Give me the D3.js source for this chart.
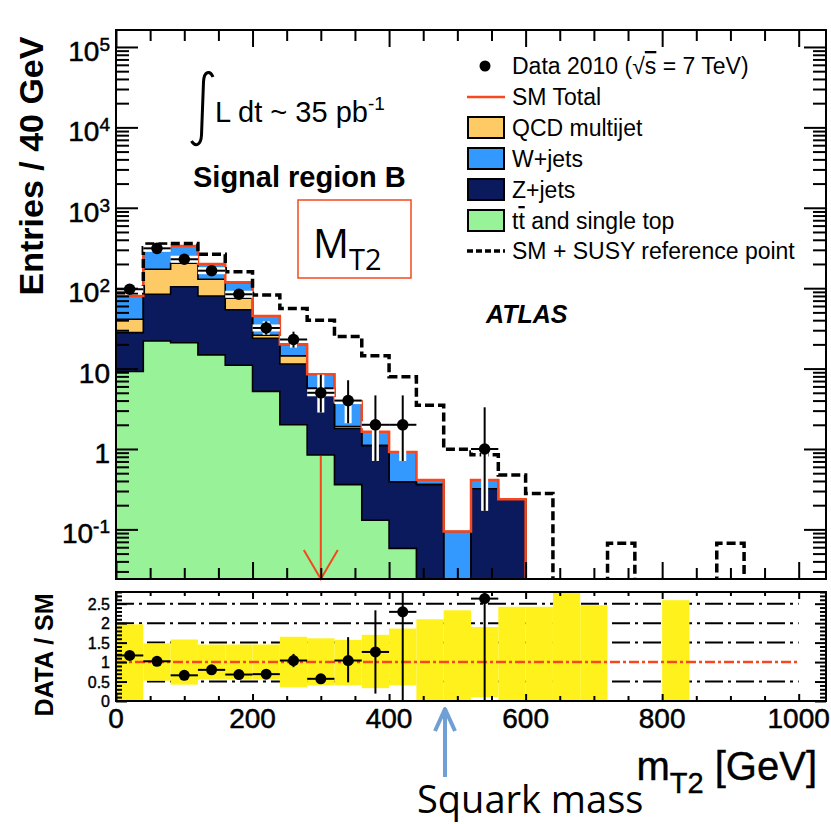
<!DOCTYPE html>
<html><head><meta charset="utf-8">
<script src="https://cdn.jsdelivr.net/npm/d3@7"></script>
<style>body{margin:0;background:#fff}svg{display:block}</style>
</head><body><svg id="c" width="831" height="824"></svg>
<script>
// ---------- DATA ----------
const binLow = [0,40,80,120,160,200,240,280,320,360,400,440,480,520,560,600,640,680,720,760,800,840,880,920,960,1000];
const ttbar  = [9.2,22,21,14.8,11,5.2,2.0,0.84,0.36,0.13,0.058,0,0,0,0,0,0,0,0,0,0,0,0,0,0,0];
const zjets  = [18.8,62,83,65.2,43,18.6,9.4,4.86,1.44,0.97,0.33,0.36,0,0.32,0.237,0,0,0,0,0,0,0,0,0,0,0];
const qcd    = [13,88,100,49,21,2.2,3.0,0,0.1,0,0,0,0,0,0,0,0,0,0,0,0,0,0,0,0,0];
const wjets  = [39,135,131,71,43,19,5.6,2.8,2.0,0.54,0.53,0.05,0.094,0.09,0,0,0,0,0,0,0,0,0,0,0,0];
const smSusy = [88,355,360,264,160,82,56,40,25,14.4,7.9,3.5,0.99,0.85,0.475,0.28,0,0,0.067,0,0,0,0.067,0,0,0];
const dataCounts = [97,313,229,165,84,32,23,5,4,2,2,0,0,1,0,0,0,0,0,0,0,0,0,0,0,0];
const dataErrLo  = [9.8,17.7,15,12.8,9.1,5.6,4.8,2.16,1.91,1.29,1.29,0,0,0.83,0,0,0,0,0,0,0,0,0,0,0,0];
const dataErrHi  = [10.9,18.7,16,13.8,10.2,6.7,5.8,3.38,3.16,2.64,2.64,0,0,2.3,0,0,0,0,0,0,0,0,0,0,0,0];
const ratioVal   = [1.17,1.02,0.66,0.80,0.68,0.69,1.04,0.57,1.04,1.26,2.29,null,null,2.63,null,null,null,null,null,null,null,null,null,null,null,null];
const ratioErrLo = [0.08,0.06,0.12,0.06,0.07,0.1,0.17,0.05,0.56,1.07,2.29,0,0,2.63,0,0,0,0,0,0,0,0,0,0,0,0];
const ratioErrHi = [0.08,0.06,0.12,0.06,0.07,0.1,0.17,0.05,0.6,1.07,3,0,0,3,0,0,0,0,0,0,0,0,0,0,0,0];
const bandLo = [0,0.52,0.42,0.55,0.55,0.55,0.35,0.4,0.4,0.33,0.4,0,0,0.1,0,0,0,0,null,null,0,null,null,null,null,null];
const bandHi = [1.97,1.48,1.58,1.45,1.45,1.45,1.65,1.61,1.57,1.7,1.86,2.1,2.33,1.9,2.42,2.42,2.9,2.46,null,null,2.59,null,null,null,null,null];
const yMajorTicks = [0.1,1,10,100,1000,10000,100000];
const yTickExp    = ["-1",null,null,"2","3","4","5"];
const yTickBase   = ["10","1","10","10","10","10","10"];
const ratioTicks  = [0,0.5,1,1.5,2,2.5];
const ratioTickLabels = ["0","0.5","1","1.5","2","2.5"];
const ratioGrid   = [0.5,1.5,2,2.5];
const xMajorTicks = [0,200,400,600,800,1000];
const legendItems = ["Data 2010 (", "SM Total", "QCD multijet", "W+jets", "Z+jets", " and single top", "SM + SUSY reference point"];

// ---------- SETUP ----------
const svg = d3.select('#c');
const FONT = "'Liberation Sans', Arial, Helvetica, sans-serif";
const W = 40;
const x = d3.scaleLinear().domain([0,1040]).range([116,826]);
const y = d3.scaleLog().domain([0.02415,162600]).range([579,30]);
const yr = d3.scaleLinear().domain([0,2.8]).range([701,592]);
const RED = '#f5481e';
const colors = {ttbar:'#98f298', zjets:'#0a1a5c', qcd:'#fdca66', wjets:'#3399ff'};

const defs = svg.append('defs');
defs.append('clipPath').attr('id','clipMain').append('rect').attr('x',116).attr('y',30).attr('width',710).attr('height',549);
defs.append('clipPath').attr('id','clipRatio').append('rect').attr('x',116).attr('y',592).attr('width',710).attr('height',109);

const yc = v => y(Math.max(v, 1e-3));
function stepPts(vals){
  const p = binLow.map((b,i)=>[x(b), yc(vals[i])]);
  p.push([x(binLow[binLow.length-1]+W), yc(vals[vals.length-1])]);
  return p;
}
const area = d3.area().x(d=>d[0]).y0(579).y1(d=>d[1]).curve(d3.curveStepAfter);
const line = d3.line().curve(d3.curveStepAfter);

// ---------- MAIN PANEL ----------
const table = binLow.map((b,i)=>({b, ttbar:ttbar[i], zjets:zjets[i], qcd:qcd[i], wjets:wjets[i]}));
const stack = d3.stack().keys(['ttbar','zjets','qcd','wjets'])(table);
const gMain = svg.append('g').attr('clip-path','url(#clipMain)');
[...stack].reverse().forEach(layer=>{
  const tops = layer.map(d=>d[1]);
  gMain.append('path').attr('d', area(stepPts(tops))).attr('fill', colors[layer.key]);
  gMain.append('path').attr('d', line(stepPts(tops))).attr('fill','none').attr('stroke','#000').attr('stroke-width',1.6);
});
const total = stack[stack.length-1].map(d=>d[1]);
gMain.append('path').attr('d', line(stepPts(total))).attr('fill','none').attr('stroke',RED).attr('stroke-width',2.5);
gMain.append('path').attr('d', line(stepPts(smSusy))).attr('fill','none').attr('stroke','#000').attr('stroke-width',3.5).attr('stroke-dasharray','9,4');

// data points
const pts = binLow.map((b,i)=>({b, v:dataCounts[i], lo:dataErrLo[i], hi:dataErrHi[i]})).filter(d=>d.v>0);
pts.forEach(d=>{
  const cx = x(d.b+W/2), cy = y(d.v);
  [['#fff',7],['#000',2]].forEach(([col,w])=>{
    gMain.append('line').attr('x1',cx).attr('x2',cx).attr('y1',y(d.v+d.hi)).attr('y2',yc(d.v-d.lo)).attr('stroke',col).attr('stroke-width',w);
    gMain.append('line').attr('x1',x(d.b)).attr('x2',x(d.b+W)).attr('y1',cy).attr('y2',cy).attr('stroke',col).attr('stroke-width',w);
  });
  gMain.append('circle').attr('cx',cx).attr('cy',cy).attr('r',5.8).attr('fill','#000');
});

// red arrow at 300 GeV
const ax = x(300);
svg.append('path').attr('d',`M${ax},456 L${ax},579 M${ax-17},550 L${ax},579 L${ax+17},550`)
  .attr('fill','none').attr('stroke',RED).attr('stroke-width',2);

// main axes ticks
const logMinor = [];
for (let e=-2;e<=5;e++) for (let m=2;m<=9;m++){ const v=m*Math.pow(10,e); if(v>0.02415 && v<162600) logMinor.push(v); }
const xMinor = d3.range(0,1041,50).filter(v=>v%200!==0);
function styleAxis(g){ g.select('.domain').remove(); g.selectAll('.tick line').attr('stroke','#000').attr('stroke-width',2); g.selectAll('.tick text').remove(); }
svg.append('g').attr('transform','translate(116,0)').call(d3.axisLeft(y).tickValues(yMajorTicks).tickSize(-22)).call(styleAxis);
svg.append('g').attr('transform','translate(116,0)').call(d3.axisLeft(y).tickValues(logMinor).tickSize(-13)).call(styleAxis);
svg.append('g').attr('transform','translate(826,0)').call(d3.axisRight(y).tickValues(yMajorTicks).tickSize(-22)).call(styleAxis);
svg.append('g').attr('transform','translate(826,0)').call(d3.axisRight(y).tickValues(logMinor).tickSize(-13)).call(styleAxis);
svg.append('g').attr('transform','translate(0,30)').call(d3.axisTop(x).tickValues(xMajorTicks).tickSize(-17)).call(styleAxis);
svg.append('g').attr('transform','translate(0,30)').call(d3.axisTop(x).tickValues(xMinor).tickSize(-11)).call(styleAxis);
svg.append('g').attr('transform','translate(0,579)').call(d3.axisBottom(x).tickValues(xMajorTicks).tickSize(-17)).call(styleAxis);
svg.append('g').attr('transform','translate(0,579)').call(d3.axisBottom(x).tickValues(xMinor).tickSize(-11)).call(styleAxis);
svg.append('rect').attr('x',116).attr('y',30).attr('width',710).attr('height',549).attr('fill','none').attr('stroke','#000').attr('stroke-width',2);

// main y labels
yMajorTicks.forEach((v,i)=>{
  const t = svg.append('text').attr('x',110).attr('y',y(v)+14).attr('text-anchor','end')
    .attr('font-family',FONT).attr('font-size',28).attr('fill','#000').attr('stroke','#000').attr('stroke-width',0.5).text(yTickBase[i]);
  if (yTickExp[i]) t.append('tspan').attr('dy',-10).attr('font-size',19).text(yTickExp[i]);
});
svg.append('text').attr('transform','translate(43,166) rotate(-90)').attr('text-anchor','middle')
  .attr('font-family',FONT).attr('font-weight','bold').attr('font-size',34).text('Entries / 40 GeV');

// annotations
svg.append('path').attr('d','M213,77 C210,70 204,71 203.5,82 L201.5,135 C201,146 195,147 191.5,141')
  .attr('fill','none').attr('stroke','#000').attr('stroke-width',3);
svg.append('text').attr('x',215).attr('y',122).attr('font-family',FONT).attr('font-size',29)
  .text('L dt ~ 35 pb').append('tspan').attr('dy',-12).attr('font-size',19).text('-1');
svg.append('text').attr('x',193).attr('y',187).attr('font-family',FONT).attr('font-weight','bold').attr('font-size',29).text('Signal region B');
svg.append('text').attr('x',486).attr('y',323).attr('font-family',FONT).attr('font-weight','bold').attr('font-style','italic').attr('font-size',25).text('ATLAS');

// M_T2 box
svg.append('rect').attr('x',298).attr('y',200).attr('width',113).attr('height',78).attr('fill','#fff').attr('stroke',RED).attr('stroke-width',1.5);
const mt = svg.append('text').attr('x',313).attr('y',258).attr('font-family',"'Open Sans', sans-serif").attr('font-size',40).text('M');
mt.append('tspan').attr('dy',12).attr('font-size',29).text('T2');

// legend
const LX = 467, TX = 512, LF = 23;
svg.append('circle').attr('cx',485).attr('cy',66).attr('r',5.5).attr('fill','#000');
const dt = svg.append('text').attr('x',TX).attr('y',74).attr('font-family',FONT).attr('font-size',LF).text(legendItems[0]);
dt.append('tspan').text('√');
dt.append('tspan').style('text-decoration','overline').text('s');
dt.append('tspan').text(' = 7 TeV)');
svg.append('line').attr('x1',LX).attr('x2',505).attr('y1',97).attr('y2',97).attr('stroke',RED).attr('stroke-width',2.5);
svg.append('text').attr('x',TX).attr('y',105).attr('font-family',FONT).attr('font-size',LF).text(legendItems[1]);
const boxes = [['qcd',117,136,legendItems[2]],['wjets',148,167,legendItems[3]],['zjets',179,198,legendItems[4]],['ttbar',210,229,null]];
boxes.forEach(([k,by,ty,lab])=>{
  svg.append('rect').attr('x',LX+1).attr('y',by).attr('width',36).attr('height',21).attr('fill',colors[k]).attr('stroke','#000').attr('stroke-width',2);
  if (lab) svg.append('text').attr('x',TX).attr('y',ty).attr('font-family',FONT).attr('font-size',LF).text(lab);
});
const tt = svg.append('text').attr('x',TX).attr('y',229).attr('font-family',FONT).attr('font-size',LF).text('t');
tt.append('tspan').style('text-decoration','overline').text('t');
tt.append('tspan').text(legendItems[5]);
svg.append('line').attr('x1',LX).attr('x2',505).attr('y1',251).attr('y2',251).attr('stroke','#000').attr('stroke-width',3.5).attr('stroke-dasharray','6,3');
svg.append('text').attr('x',TX).attr('y',259).attr('font-family',FONT).attr('font-size',LF).text(legendItems[6]);

// ---------- RATIO PANEL ----------
const gR = svg.append('g').attr('clip-path','url(#clipRatio)');
ratioGrid.forEach(v=>{
  gR.append('line').attr('x1',x(0)).attr('x2',x(1000)).attr('y1',yr(v)).attr('y2',yr(v)).attr('stroke','#000').attr('stroke-width',2).attr('stroke-dasharray','18,5,3,5');
});
binLow.forEach((b,i)=>{
  if (bandHi[i]==null) return;
  gR.append('rect').attr('x',x(b)).attr('width',x(b+W)-x(b)).attr('y',yr(bandHi[i])).attr('height',yr(bandLo[i])-yr(bandHi[i])).attr('fill','#fff21c');
});
gR.append('line').attr('x1',x(0)).attr('x2',x(1000)).attr('y1',yr(1)).attr('y2',yr(1)).attr('stroke',RED).attr('stroke-width',2.5).attr('stroke-dasharray','10,3,3,3');
binLow.forEach((b,i)=>{
  const v = ratioVal[i]; if (v==null) return;
  const cx = x(b+W/2), cy = yr(v);
  gR.append('line').attr('x1',cx).attr('x2',cx).attr('y1',yr(v+ratioErrHi[i])).attr('y2',yr(v-ratioErrLo[i])).attr('stroke','#000').attr('stroke-width',2);
  gR.append('line').attr('x1',x(b)).attr('x2',x(b+W)).attr('y1',cy).attr('y2',cy).attr('stroke','#000').attr('stroke-width',2);
  gR.append('circle').attr('cx',cx).attr('cy',cy).attr('r',5.5).attr('fill','#000');
});
const rMinor = d3.range(0,2.81,0.1).filter(v=>Math.abs(v*2-Math.round(v*2))>1e-6);
svg.append('g').attr('transform','translate(116,0)').call(d3.axisLeft(yr).tickValues(ratioTicks).tickSize(-11)).call(styleAxis);
svg.append('g').attr('transform','translate(116,0)').call(d3.axisLeft(yr).tickValues(rMinor).tickSize(-6)).call(styleAxis);
svg.append('g').attr('transform','translate(826,0)').call(d3.axisRight(yr).tickValues(ratioTicks).tickSize(-11)).call(styleAxis);
svg.append('g').attr('transform','translate(826,0)').call(d3.axisRight(yr).tickValues(rMinor).tickSize(-6)).call(styleAxis);
svg.append('g').attr('transform','translate(0,592)').call(d3.axisTop(x).tickValues(xMajorTicks).tickSize(-7)).call(styleAxis);
svg.append('g').attr('transform','translate(0,592)').call(d3.axisTop(x).tickValues(xMinor).tickSize(-4)).call(styleAxis);
svg.append('g').attr('transform','translate(0,701)').call(d3.axisBottom(x).tickValues(xMajorTicks).tickSize(-7)).call(styleAxis);
svg.append('g').attr('transform','translate(0,701)').call(d3.axisBottom(x).tickValues(xMinor).tickSize(-5)).call(styleAxis);
svg.append('rect').attr('x',116).attr('y',592).attr('width',710).attr('height',109).attr('fill','none').attr('stroke','#000').attr('stroke-width',2);

ratioTicks.forEach((v,i)=>{
  svg.append('text').attr('x',110).attr('y',yr(v)+6).attr('text-anchor','end').attr('font-family',FONT).attr('font-size',16)
    .attr('stroke','#000').attr('stroke-width',0.4).text(ratioTickLabels[i]);
});
xMajorTicks.forEach(v=>{
  svg.append('text').attr('x',x(v)).attr('y',728).attr('text-anchor','middle').attr('font-family',FONT).attr('font-size',28)
    .attr('stroke','#000').attr('stroke-width',0.5).text(v);
});
svg.append('text').attr('transform','translate(53,655) rotate(-90)').attr('text-anchor','middle')
  .attr('font-family',FONT).attr('font-weight','bold').attr('font-size',25).text('DATA / SM');
const xt = svg.append('text').attr('x',817).attr('y',780).attr('text-anchor','end').attr('font-family',FONT).attr('font-size',40).attr('stroke','#000').attr('stroke-width',0.4).text('m');
xt.append('tspan').attr('dy',13).attr('font-size',29).text('T2');
xt.append('tspan').attr('dy',-13).text(' [GeV]');

// squark annotation
const BL = '#6f9fd4';
svg.append('path').attr('d','M445,777 L445,710 M435,731 L445,709 L455,731').attr('fill','none').attr('stroke',BL).attr('stroke-width',4).attr('stroke-linejoin','round');
svg.append('text').attr('x',417).attr('y',813).attr('font-family',"'Open Sans', sans-serif").attr('font-size',38).text('Squark mass');
</script></body></html>
